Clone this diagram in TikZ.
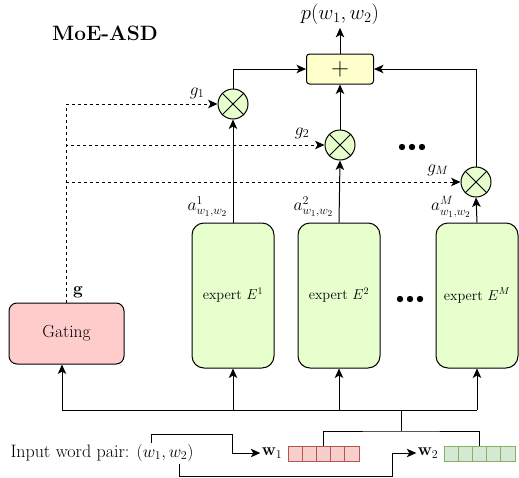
\documentclass[tikz,border=0pt]{standalone}
\usetikzlibrary{arrows.meta}
\definecolor{gatefill}{HTML}{FFCCCC}
\definecolor{expfill}{HTML}{E6FFCC}
\definecolor{sumfill}{HTML}{FFFFCC}
\definecolor{redfill}{HTML}{F8CECC}
\definecolor{redline}{HTML}{B85450}
\definecolor{greenfill}{HTML}{D5E8D4}
\definecolor{greenline}{HTML}{82B366}
\tikzset{
  base/.style={font=\fontsize{15}{18}\selectfont},
  expertbox/.style={draw, fill=expfill, rounded corners=12pt, minimum width=82pt, minimum height=145pt, inner sep=0pt, font=\fontsize{14.3}{17}\selectfont},
  gatebox/.style={draw, fill=gatefill, rounded corners=8pt, minimum width=115pt, minimum height=61pt, inner sep=0pt, font=\fontsize{17.5}{20}\selectfont},
  sumbox/.style={draw, fill=sumfill, rounded corners=3pt, minimum width=67pt, minimum height=30pt, inner sep=0pt},
  mult/.style={draw, circle, fill=expfill, minimum size=30pt, inner sep=0pt},
  lab/.style={inner sep=1pt, font=\fontsize{17.5}{20}\selectfont},
  redvec/.style={draw=redline, fill=redfill, minimum width=71pt, minimum height=15pt, inner sep=0pt},
  greenvec/.style={draw=greenline, fill=greenfill, minimum width=71pt, minimum height=15pt, inner sep=0pt},
  gdash/.style={dashed, line width=0.9pt, dash pattern=on 3pt off 3pt},
}
\begin{document}
\begin{tikzpicture}[x=1pt, y=-1pt, line width=1pt, base,
  >={Stealth[length=9.5pt,width=8.5pt,inset=2.5pt]}]
\useasboundingbox (0,0) rectangle (519,477);

% title
\node[font=\fontsize{20.8}{24}\selectfont\bfseries] (title) at (105,33) {MoE-ASD};

% sum and output
\node[sumbox] (plus) at (340,69) {\fontsize{27}{27}\selectfont$+$};
\node[lab, font=\fontsize{19.5}{22}\selectfont] (out) at (340,14) {$p(w_1,w_2)$};

% multipliers
\node[mult] (m1) at (233,104) {};
\node[mult] (m2) at (340,145) {};
\node[mult] (mM) at (476,182) {};
\foreach \m in {m1,m2,mM}{
  \draw (\m.north west) -- (\m.south east) (\m.north east) -- (\m.south west);
}

% experts
\node[expertbox] (e1) at (233,295.5) {expert $E^1$};
\node[expertbox] (e2) at (339,295.5) {expert $E^2$};
\node[expertbox] (eM) at (477,295.5) {expert $E^M$};

% gating
\node[gatebox] (gate) at (66.5,333.5) {Gating};
\node[lab] (glab) at (78,292) {$\mathbf{g}$};

% dots
\foreach \x in {402,412,422}{ \fill (\x,147) circle (3.2pt); }
\foreach \x in {400,410,420}{ \fill (\x,299) circle (3.2pt); }

% gate labels
\node[lab] (g1) at (197,93) {$g_1$};
\node[lab] (g2) at (302,133) {$g_2$};
\node[lab] (gM) at (438,170) {$g_M$};

% activation labels
\node[lab] (a1) at (207.5,207) {$a^{1}_{w_1,w_2}$};
\node[lab] (a2) at (313.5,207) {$a^{2}_{w_1,w_2}$};
\node[lab] (aM) at (451,207) {$a^{M}_{w_1,w_2}$};

% connections experts -> multipliers -> sum
\draw[->] (e1.north) -- (m1.south);
\draw[->] (e2.north) -- (m2.south);
\draw[->] (eM.north) -- (mM.south);
\draw[->] (m1.north) |- (plus.west);
\draw[->] (mM.north) |- (plus.east);
\draw[->] (m2.north) -- (plus.south);
\draw[->] (plus.north) -- ([yshift=-2pt]out.south);

% gating dashed
\draw[gdash,->] (gate.north) |- (m1.west);
\draw[gdash,->] (gate.north) |- (m2.west);
\draw[gdash,->] (gate.north) |- (mM.west);

% input vectors
\node[redvec] (w1box) at (323.5,453.5) {};
\node[greenvec] (w2box) at (479.5,453.5) {};
\foreach \i in {1,...,4}{
  \draw[redline] (288+\i*14.2,446) -- (288+\i*14.2,461);
  \draw[greenline] (444+\i*14.2,446) -- (444+\i*14.2,461);
}
\node[lab, font=\fontsize{17}{20}\selectfont] (w1lab) at (272,453) {$\mathbf{w}_1$};
\node[lab, font=\fontsize{17}{20}\selectfont] (w2lab) at (428,453) {$\mathbf{w}_2$};
\node[anchor=west, inner sep=0pt, font=\fontsize{18}{21}\selectfont] (inp) at (10,453) {Input word pair: $(w_1, w_2)$};

% bus
\coordinate (bl) at (62,410);
\coordinate (br) at (477,410);
\coordinate (j) at (401,410);
\coordinate (j2) at (401,431);
\draw (bl) -- (br);
\draw[->] (bl) -- (bl |- gate.south);
\draw[->] (e1.south |- bl) -- (e1.south);
\draw[->] (e2.south |- bl) -- (e2.south);
\draw[->] (br) -- (eM.south);
\draw (j) -- (j2);
\draw (w1box.north) |- (j2) -| (w2box.north);

% input arrows
\coordinate (s1) at (151,443);
\coordinate (s2) at (179,464);
\draw[->] (s1) |- ++(81,-9) |- (w1lab.west);
\draw[->] (s2) |- ++(213,12) |- (w2lab.west);
\end{tikzpicture}
\end{document}
